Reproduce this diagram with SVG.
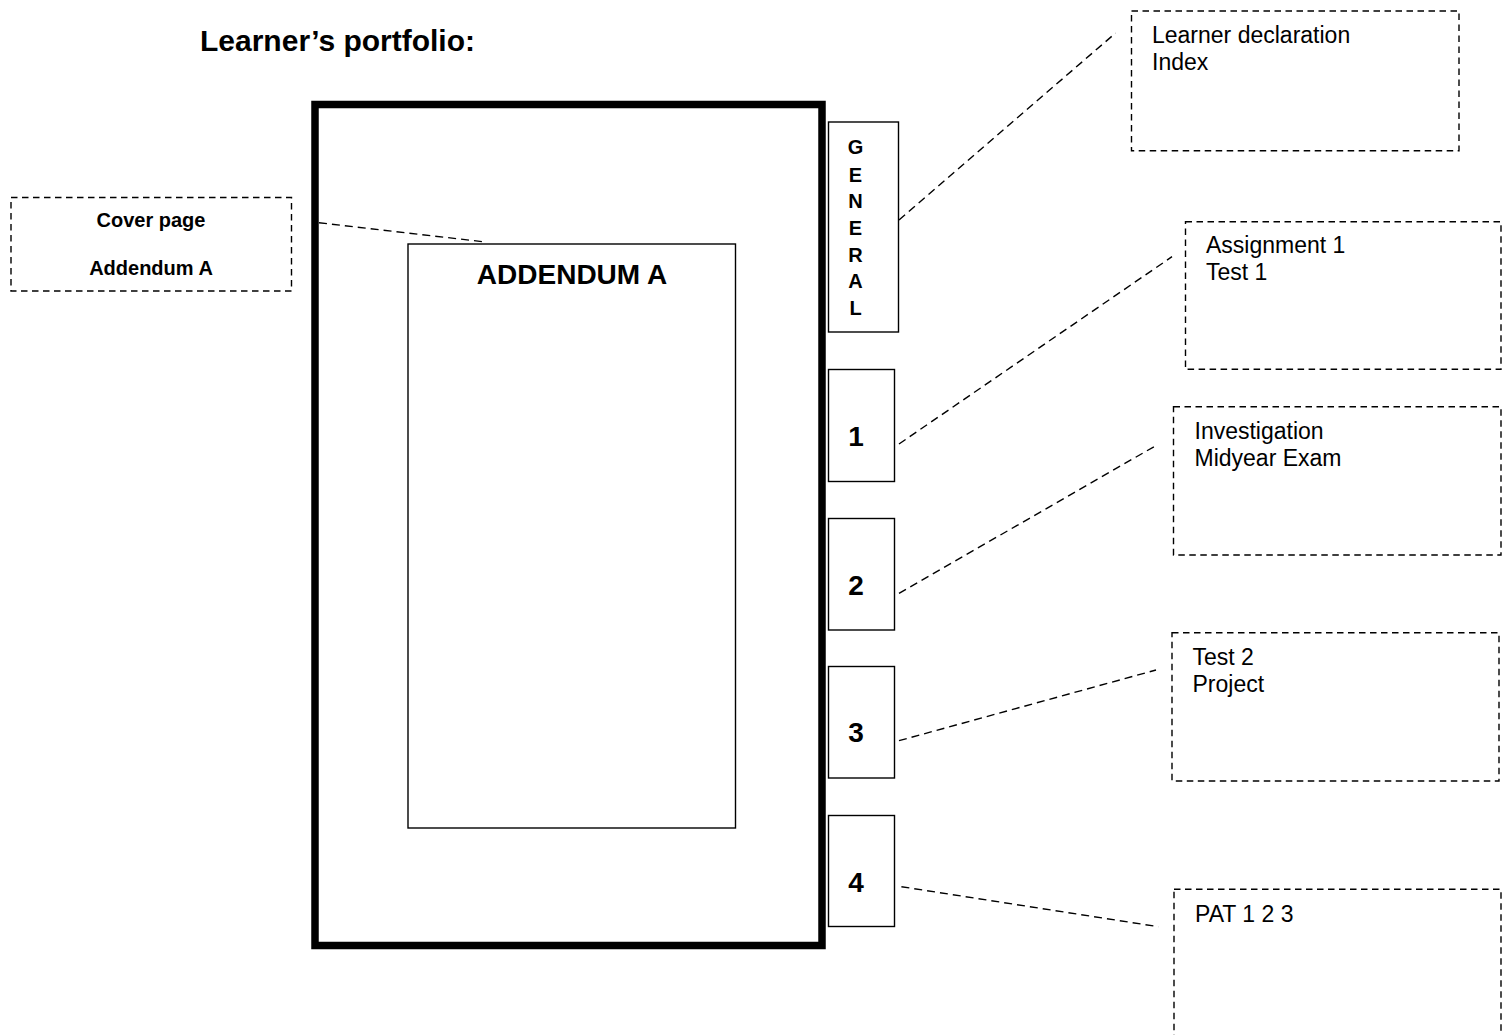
<svg xmlns="http://www.w3.org/2000/svg" width="1507" height="1035" viewBox="0 0 1507 1035">
<style>
.bg{fill:#fff}
.folder{fill:none;stroke:#000;stroke-width:7.5}
.inner{fill:none;stroke:#000;stroke-width:1.4}
.tab{fill:#fff;stroke:#000;stroke-width:1.4}
.note{fill:none;stroke:#000;stroke-width:1.4;stroke-dasharray:6.5 4.5}
.conn{fill:none;stroke:#000;stroke-width:1.4;stroke-dasharray:8 5}
text{font-family:"Liberation Sans",Arial,sans-serif;fill:#000}
.title{font-size:30px;font-weight:bold}
.big{font-size:28px;font-weight:bold}
.tabl{font-size:20px;font-weight:bold;text-anchor:middle}
.digit{font-size:28px;font-weight:bold;text-anchor:middle}
.cov{font-size:20px;font-weight:bold;text-anchor:middle}
.item{font-size:23px}
</style>
<rect class="bg" x="0" y="0" width="1507" height="1035"/>
<text id="title" class="title" x="200" y="51">Learner’s portfolio:</text>

<g id="folder">
<rect class="folder" x="315" y="104.5" width="507" height="841"/>
</g>
<g id="addendum">
<rect class="inner" x="408" y="244" width="327.5" height="584"/>
<text class="big" x="572" y="283.5" text-anchor="middle">ADDENDUM A</text>
</g>

<g id="cover-note">
<rect class="note" x="11" y="197.5" width="280.5" height="93.5"/>
<text class="cov" x="151" y="226.7">Cover page</text>
<text class="cov" x="151" y="275">Addendum A</text>
</g>

<g id="tab-general">
<rect class="tab" x="828.5" y="122" width="70" height="210"/>
<text class="tabl" x="855.5" y="154">G</text>
<text class="tabl" x="855.5" y="181.7">E</text>
<text class="tabl" x="855.5" y="208.3">N</text>
<text class="tabl" x="855.5" y="235">E</text>
<text class="tabl" x="855.5" y="261.7">R</text>
<text class="tabl" x="855.5" y="288.3">A</text>
<text class="tabl" x="855.5" y="315">L</text>
</g>
<g id="tab-1">
<rect class="tab" x="828.5" y="369.5" width="66" height="112"/>
<text class="digit" x="856" y="446">1</text>
</g>
<g id="tab-2">
<rect class="tab" x="828.5" y="518.5" width="66" height="111.5"/>
<text class="digit" x="856" y="595">2</text>
</g>
<g id="tab-3">
<rect class="tab" x="828.5" y="666.5" width="66" height="111.5"/>
<text class="digit" x="856" y="741.7">3</text>
</g>
<g id="tab-4">
<rect class="tab" x="828.5" y="815.5" width="66" height="111"/>
<text class="digit" x="856" y="891.7">4</text>
</g>

<g id="note-general">
<rect class="note" x="1131.5" y="11" width="327.5" height="139.7"/>
<text class="item" x="1152" y="43.3">Learner declaration</text>
<text class="item" x="1152" y="70">Index</text>
</g>
<g id="note-1">
<rect class="note" x="1185.5" y="221.7" width="315.5" height="147.6"/>
<text class="item" x="1206" y="253.3">Assignment 1</text>
<text class="item" x="1206" y="280">Test 1</text>
</g>
<g id="note-2">
<rect class="note" x="1173.5" y="406.7" width="327.5" height="148.3"/>
<text class="item" x="1194.5" y="439.3">Investigation</text>
<text class="item" x="1194.5" y="466">Midyear Exam</text>
</g>
<g id="note-3">
<rect class="note" x="1172" y="632.7" width="327" height="148.3"/>
<text class="item" x="1192.5" y="665">Test 2</text>
<text class="item" x="1192.5" y="691.7">Project</text>
</g>
<g id="note-4">
<rect class="note" x="1174" y="889.3" width="327" height="200"/>
<text class="item" x="1195" y="921.7">PAT 1 2 3</text>
</g>

<g id="connectors">
<line class="conn" x1="319" y1="222.7" x2="482.8" y2="241.7"/>
<line class="conn" x1="899" y1="220" x2="1115.6" y2="33"/>
<line class="conn" x1="899" y1="444" x2="1172" y2="256.7"/>
<line class="conn" x1="899" y1="593.3" x2="1154" y2="446.7"/>
<line class="conn" x1="899" y1="740.7" x2="1156" y2="670"/>
<line class="conn" x1="901.4" y1="886.7" x2="1158.4" y2="926.7"/>
</g>
</svg>
